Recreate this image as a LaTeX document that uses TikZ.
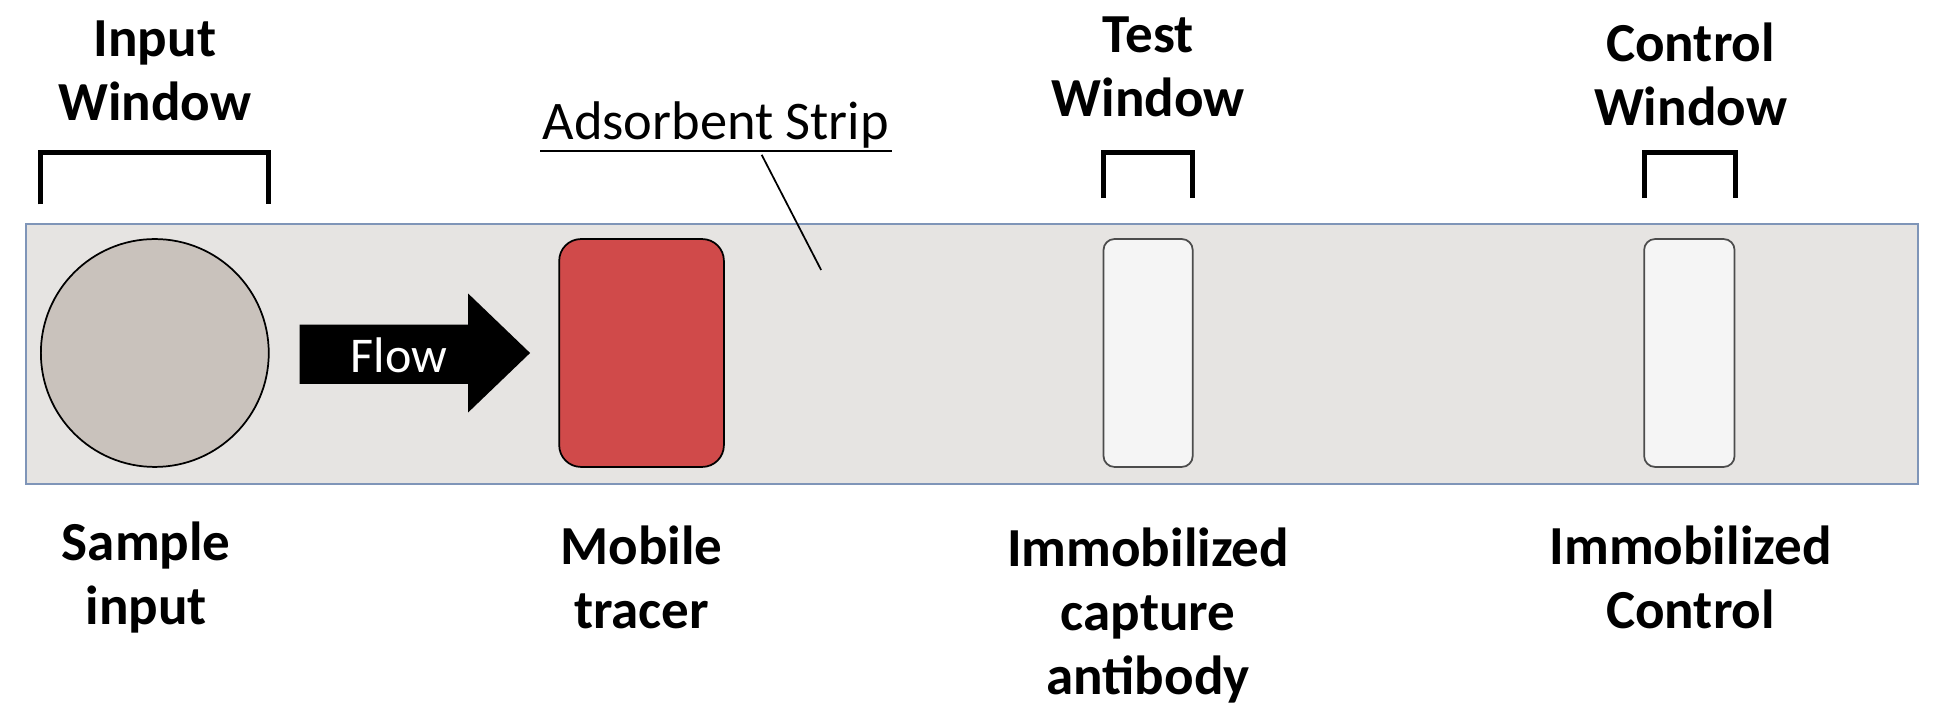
\documentclass[tikz,border=0pt]{standalone}
\usepackage{fontspec}
\setmainfont{Carlito}
\definecolor{strip}{HTML}{E6E4E2}
\definecolor{sampl}{HTML}{C9C2BC}
\definecolor{tracer}{HTML}{D04A4A}
\definecolor{edgeb}{HTML}{7F95B8}
\begin{document}
\begin{tikzpicture}[x=0.02cm,y=-0.02cm,
  lbl/.style={font=\bfseries\fontsize{25.3}{29.5}\selectfont,align=center,text=black},
  brk/.style={line width=2.2pt},
  win/.style={draw=black!70,line width=0.8pt,fill=black!4,rounded corners=5pt}]
\useasboundingbox (0,0) rectangle (1568,583);
\node[draw=edgeb,line width=1pt,fill=strip,minimum width=1528*0.02cm,minimum height=210*0.02cm,inner sep=0,anchor=north west] (strip) at (20,180) {};
\node[circle,draw=black,line width=0.8pt,fill=sampl,minimum size=184*0.02cm,inner sep=0] (sample) at (125,285) {};
\fill[black] (242,262) -- (378,262) -- (378,237) -- (428,285) -- (378,333) -- (378,310) -- (242,310) -- cycle;
\node[text=white,font=\fontsize{23}{26}\selectfont] (flow) at (322,287) {Flow};
\node[draw=black,line width=0.8pt,fill=tracer,rounded corners=10pt,minimum width=133*0.02cm,minimum height=184*0.02cm,inner sep=0] (tracer) at (518,285) {};
\node[win,minimum width=72*0.02cm,minimum height=184*0.02cm,inner sep=0] (test) at (927,285) {};
\node[win,minimum width=73*0.02cm,minimum height=184*0.02cm,inner sep=0] (ctrl) at (1364,285) {};
\draw[brk] (33,165) -- (33,123) -- (217,123) -- (217,165);
\draw[brk] (891,160) -- (891,123) -- (963,123) -- (963,160);
\draw[brk] (1328,160) -- (1328,123) -- (1401,123) -- (1401,160);
\node[lbl] (inw) at (125,57) {Input\\Window};
\node[lbl] (tw) at (927,54) {Test\\Window};
\node[lbl] (cw) at (1365,60) {Control\\Window};
\node[font=\fontsize{25}{28}\selectfont,inner sep=1pt] (ads) at (578,101) {Adsorbent Strip};
\draw[line width=0.9pt] (ads.south west) -- (ads.south east);
\coordinate (adsend) at (663,218);
\draw[line width=0.8pt] (615,125) -- (adsend);
\node[lbl] (si) at (118,466) {Sample\\input};
\node[lbl] (mt) at (518,466) {Mobile\\tracer};
\node[lbl,anchor=north] (ica) at (927,420) {Immobilized\\capture\\antibody};
\node[lbl] (ic) at (1365,466) {Immobilized\\Control};
\end{tikzpicture}
\end{document}
